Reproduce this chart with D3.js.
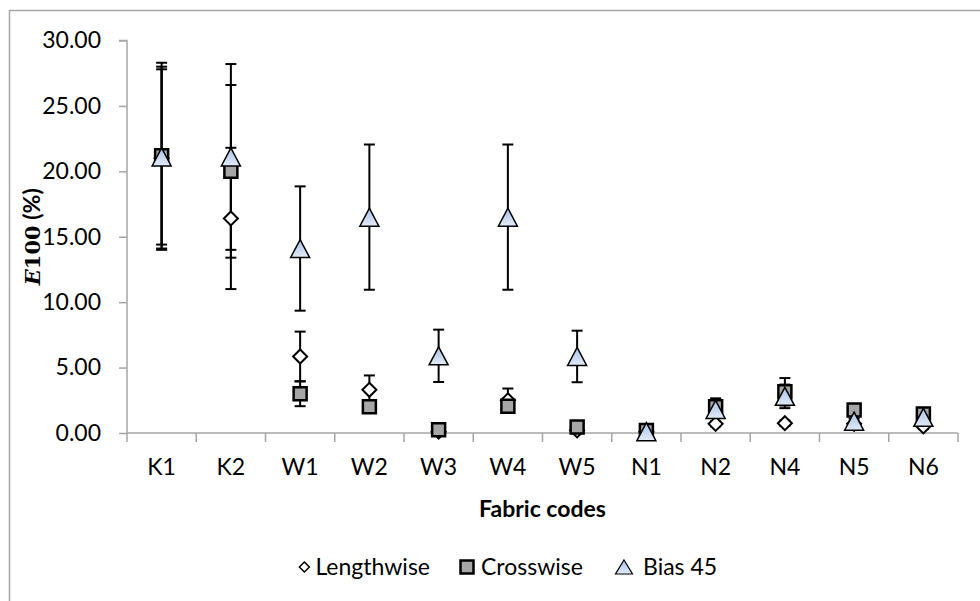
<!DOCTYPE html>
<html>
<head>
<meta charset="utf-8">
<script src="https://cdn.jsdelivr.net/npm/d3@7/dist/d3.min.js"></script>
<style>
  html, body { margin: 0; padding: 0; background: #fff; }
  svg { display: block; }
  text { font-family: Lato, "Liberation Sans", sans-serif; fill: #000; }
</style>
</head>
<body>
<svg id="chart" width="980" height="601"></svg>
<script>
const categories = ["K1","K2","W1","W2","W3","W4","W5","N1","N2","N4","N5","N6"];
const lengthwise    = [21.0, 16.4, 5.85, 3.3, 0.1, 2.5, 0.2, 0.1, 0.7, 0.75, 0.7, 0.5];
const lengthwiseErr = [7.0, 5.4, 1.9, 1.1, 0.05, 0.9, 0.1, 0.05, 0.2, 0.2, 0.2, 0.2];
const crosswise     = [21.2, 20.0, 3.0, 2.0, 0.25, 2.05, 0.45, 0.2, 2.0, 3.15, 1.75, 1.45];
const crosswiseErr  = [7.1, 6.6, 0.95, 0.4, 0.1, 0.4, 0.1, 0.1, 0.65, 1.05, 0.2, 0.2];
const bias          = [21.1, 21.1, 14.1, 16.5, 5.9, 16.5, 5.85, 0.1, 1.8, 2.8, 0.9, 1.2];
const biasErr       = [6.7, 7.1, 4.75, 5.55, 2.0, 5.55, 1.97, 0.05, 0.3, 0.9, 0.2, 0.2];
const yTicks = [0, 5, 10, 15, 20, 25, 30];
const seriesNames = ["Lengthwise", "Crosswise", "Bias 45"];

const FS = 23;
const svg = d3.select("#chart");
const defs = svg.append("defs");
const grad = defs.append("linearGradient").attr("id", "triGrad")
  .attr("x1", 0).attr("y1", 0).attr("x2", 0).attr("y2", 1);
grad.append("stop").attr("offset", "0%").attr("stop-color", "#a9c1e8");
grad.append("stop").attr("offset", "100%").attr("stop-color", "#e2ebf8");

// outer frame
svg.append("path").attr("d", "M9.5,610 L9.5,10.5 L990,10.5")
  .attr("fill", "none").attr("stroke", "#a6a6a6").attr("stroke-width", 1.5);

const L = 127, R = 958, T = 40.5, B = 433;
const x = d3.scaleBand().domain(categories).range([L, R]).paddingInner(0).paddingOuter(0);
const y = d3.scaleLinear().domain([0, 30]).range([B, T]);

// y axis
const yAxis = svg.append("g").attr("transform", `translate(${L},0)`)
  .call(d3.axisLeft(y).tickValues(yTicks).tickFormat(d3.format(".2f")).tickSize(8).tickPadding(18));
yAxis.select(".domain").attr("stroke", "#a6a6a6").attr("stroke-width", 1.5).attr("d", `M-8,${T}H0V${B}`);
yAxis.selectAll(".tick line").attr("stroke", "#a6a6a6").attr("stroke-width", 1.5);
yAxis.selectAll(".tick text").attr("font-size", FS).attr("font-family", "Lato, sans-serif").attr("fill", "#000");

// x axis
const xAxis = svg.append("g").attr("transform", `translate(0,${B})`)
  .call(d3.axisBottom(x).tickSize(0).tickPadding(26));
xAxis.select(".domain").attr("stroke", "#a6a6a6").attr("stroke-width", 1.5).attr("d", `M${L},0H${R}`);
xAxis.selectAll(".tick text").attr("font-size", FS).attr("font-family", "Lato, sans-serif").attr("fill", "#000");
const bounds = [L].concat(categories.map(c => x(c) + x.bandwidth()));
xAxis.selectAll(".sep").data(bounds).enter().append("line")
  .attr("x1", d => d).attr("x2", d => d).attr("y1", 0).attr("y2", 9)
  .attr("stroke", "#a6a6a6").attr("stroke-width", 1.5);

// axis titles
svg.append("text").attr("x", (L + R) / 2).attr("y", 517).attr("text-anchor", "middle")
  .attr("font-size", FS).attr("font-weight", "bold").text("Fabric codes");
const yt = svg.append("text").attr("transform", `translate(40,${(T + B) / 2}) rotate(-90)`)
  .attr("text-anchor", "middle").attr("font-size", FS).attr("font-weight", "bold");
yt.append("tspan").attr("font-family", "DejaVu Serif, serif").attr("font-style", "italic").attr("font-size", 21).text("E");
yt.append("tspan").attr("font-family", "DejaVu Serif, serif").attr("font-size", 21).text("100");
yt.append("tspan").attr("font-family", "Lato, sans-serif").text(" (%)");

// marker shapes
function diamondPath(s) { return `M0,${-s}L${s},0L0,${s}L${-s},0Z`; }
function squarePath(s) { return `M${-s},${-s}H${s}V${s}H${-s}Z`; }
function trianglePath(w, h) { return `M0,${-h/2}L${w},${h/2}L${-w},${h/2}Z`; }

const series = [
  { name: seriesNames[0], vals: lengthwise, errs: lengthwiseErr },
  { name: seriesNames[1], vals: crosswise, errs: crosswiseErr },
  { name: seriesNames[2], vals: bias, errs: biasErr }
];
const cx = c => x(c) + x.bandwidth() / 2;
const capW = 5.5;

// error bars (all drawn below markers)
const eg = svg.append("g").attr("stroke", "#000").attr("stroke-width", 2).attr("fill", "none");
series.forEach(s => {
  categories.forEach((c, i) => {
    const v = s.vals[i], e = s.errs[i];
    const xc = cx(c), y1 = y(v + e), y0 = y(v - e);
    eg.append("line").attr("x1", xc).attr("x2", xc).attr("y1", y1).attr("y2", y0);
    eg.append("line").attr("x1", xc - capW).attr("x2", xc + capW).attr("y1", y1).attr("y2", y1);
    eg.append("line").attr("x1", xc - capW).attr("x2", xc + capW).attr("y1", y0).attr("y2", y0);
  });
});

// markers
const mg = svg.append("g");
mg.selectAll(".len").data(categories).enter().append("path")
  .attr("transform", (c, i) => `translate(${cx(c)},${y(lengthwise[i])})`)
  .attr("d", diamondPath(7)).attr("fill", "#fff").attr("stroke", "#000").attr("stroke-width", 2);
mg.selectAll(".cro").data(categories).enter().append("path")
  .attr("transform", (c, i) => `translate(${cx(c)},${y(crosswise[i])})`)
  .attr("d", squarePath(6.5)).attr("fill", "#a6a6a6").attr("stroke", "#000").attr("stroke-width", 2.5);
mg.selectAll(".bia").data(categories).enter().append("path")
  .attr("transform", (c, i) => `translate(${cx(c)},${y(bias[i])})`)
  .attr("d", trianglePath(9.5, 18)).attr("fill", "url(#triGrad)").attr("stroke", "#000").attr("stroke-width", 1.5);

// legend
const lg = svg.append("g").attr("transform", "translate(0,567)");
const lt0 = lg.append("text").attr("x", 430).attr("dy", "0.35em").attr("text-anchor", "end")
  .attr("font-size", FS).text(seriesNames[0]);
const w0 = lt0.node().getComputedTextLength();
lg.append("path").attr("transform", `translate(${430 - w0 - 11},0)`).attr("d", diamondPath(5))
  .attr("fill", "#fff").attr("stroke", "#000").attr("stroke-width", 1.5);
lg.append("path").attr("transform", "translate(467,0)").attr("d", squarePath(6.5))
  .attr("fill", "#a6a6a6").attr("stroke", "#000").attr("stroke-width", 2.5);
lg.append("text").attr("x", 481).attr("dy", "0.35em").attr("font-size", FS).text(seriesNames[1]);
lg.append("path").attr("transform", "translate(624,0)").attr("d", trianglePath(8.5, 14))
  .attr("fill", "url(#triGrad)").attr("stroke", "#000").attr("stroke-width", 1.2);
lg.append("text").attr("x", 643).attr("dy", "0.35em").attr("font-size", FS).text(seriesNames[2]);
</script>
</body>
</html>
